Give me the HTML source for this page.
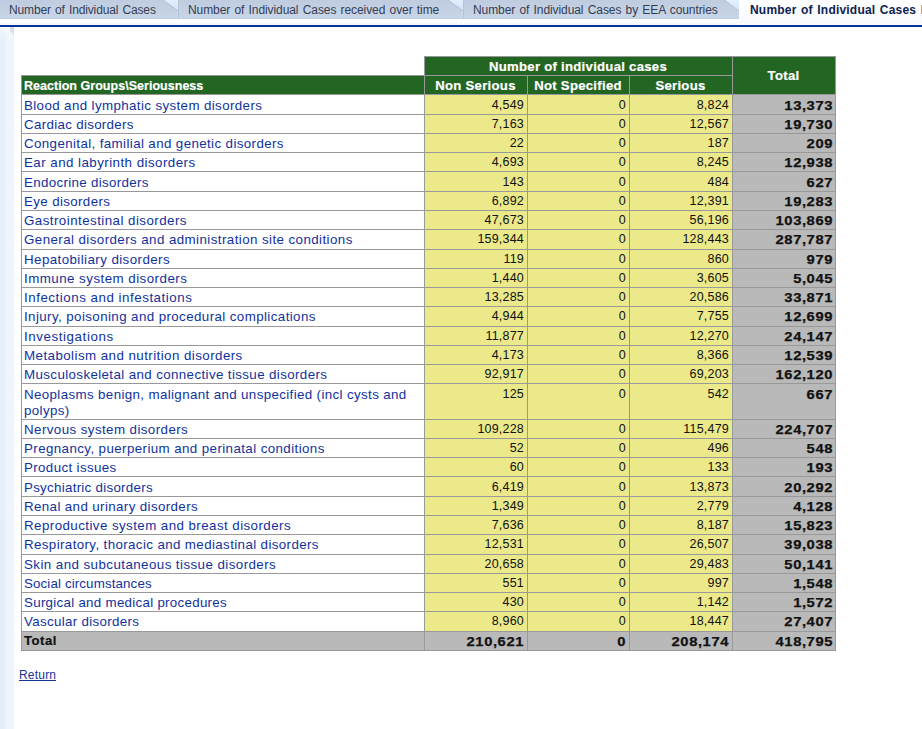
<!DOCTYPE html><html><head><meta charset="utf-8"><title>Number of Individual Cases</title><style>
html,body{margin:0;padding:0;}
body{width:922px;height:729px;overflow:hidden;background:#fff;position:relative;font-family:"Liberation Sans",sans-serif;}
div,span,a{position:absolute;white-space:nowrap;}
.tabbar{left:0;top:0;width:922px;height:19px;background:linear-gradient(#bfcce0,#c9d6e6);}
.strip{left:0;top:19px;width:922px;height:6px;background:linear-gradient(#ffffff,#f4f8fc);}
.bl{left:0;top:25px;width:922px;height:2px;background:#003399;}
.ls1{left:0;top:28px;width:5px;height:701px;background:linear-gradient(#f2f7fd,#e5effb 14px,#e3eefb);}
.ls2{left:5px;top:28px;width:9px;height:701px;background:linear-gradient(#f4f9fe,#edf4fd 14px);}
.tab{top:3px;font-size:12px;color:#343d54;line-height:14px;letter-spacing:-0.08px;word-spacing:1px;}
.tabA{top:3px;font-size:12px;color:#0e2150;font-weight:bold;line-height:14px;letter-spacing:0.2px;word-spacing:1px;}
.bg{}
.ln{background:#999999;}
.lab{font-size:12.6px;color:#10329e;line-height:16px;letter-spacing:0.36px;transform:scaleX(1.06);transform-origin:0 0;}
.num{font-size:12.5px;color:#111;line-height:14px;text-align:right;letter-spacing:0.2px;}
.tot{font-size:12.5px;color:#111;font-weight:bold;line-height:14px;text-align:right;letter-spacing:0.5px;transform:scaleX(1.18);transform-origin:100% 0;-webkit-text-stroke:0.25px currentColor;}
.hd{font-size:12.5px;color:#fff;font-weight:bold;line-height:14px;text-align:center;letter-spacing:0.27px;transform:scaleX(1.05);transform-origin:50% 0;-webkit-text-stroke:0.2px currentColor;}
</style></head><body>
<div class="tabbar"></div><div class="strip"></div>
<div style="left:739px;top:0;width:183px;height:25px;background:linear-gradient(#ffffff,#f6f9fd)"></div>
<svg style="position:absolute;left:162px;top:0" width="17" height="12"><defs><linearGradient id="tg0" x1="0" y1="0" x2="0" y2="1"><stop offset="0" stop-color="#e3effd"/><stop offset="1" stop-color="#d1e3fa"/></linearGradient></defs><polygon points="1.5,0 16,0 16,10.7" fill="url(#tg0)"/><line x1="0.8" y1="-0.4" x2="16" y2="11" stroke="#b3c2d8" stroke-width="1"/></svg>
<svg style="position:absolute;left:447px;top:0" width="17" height="12"><defs><linearGradient id="tg1" x1="0" y1="0" x2="0" y2="1"><stop offset="0" stop-color="#e3effd"/><stop offset="1" stop-color="#d1e3fa"/></linearGradient></defs><polygon points="1.5,0 16,0 16,10.7" fill="url(#tg1)"/><line x1="0.8" y1="-0.4" x2="16" y2="11" stroke="#b3c2d8" stroke-width="1"/></svg>
<svg style="position:absolute;left:723px;top:0" width="17" height="12"><defs><linearGradient id="tg2" x1="0" y1="0" x2="0" y2="1"><stop offset="0" stop-color="#e3effd"/><stop offset="1" stop-color="#d1e3fa"/></linearGradient></defs><polygon points="1.5,0 16,0 16,10.7" fill="url(#tg2)"/><line x1="0.8" y1="-0.4" x2="16" y2="11" stroke="#b3c2d8" stroke-width="1"/></svg>
<div style="left:178px;top:0;width:1px;height:19px;background:#b4c3d8"></div>
<div style="left:177px;top:11px;width:1px;height:8px;background:#cfdae9"></div>
<div style="left:463px;top:0;width:1px;height:19px;background:#b4c3d8"></div>
<div style="left:462px;top:11px;width:1px;height:8px;background:#cfdae9"></div>
<div style="left:0;top:18px;width:739px;height:1px;background:#c1cee0"></div>
<div class="bl"></div><div class="ls1"></div><div class="ls2"></div>
<svg style="position:absolute;left:10px;top:27px" width="5" height="10"><polygon points="0,0 4,0 4,9.5 2.6,6 0,4" fill="#d9dce6"/></svg>
<span class="tab" id="t1" style="left:9px;letter-spacing:-0.14px">Number of Individual Cases</span>
<span class="tab" id="t2" style="left:188px">Number of Individual Cases received over time</span>
<span class="tab" id="t3" style="left:473px">Number of Individual Cases by EEA countries</span>
<span class="tabA" id="t4" style="left:750px">Number of Individual Cases by Reaction Groups</span>
<div style="left:424px;top:56px;width:412px;height:39px;background:#236523"></div>
<div style="left:21px;top:75px;width:403px;height:20px;background:#236523"></div>
<div style="left:424px;top:94px;width:308px;height:537px;background:#ebe98a"></div>
<div style="left:732px;top:94px;width:103px;height:556px;background:#b9b9b9"></div>
<div style="left:21px;top:631px;width:711px;height:20px;background:#b9b9b9"></div>
<div class="ln" style="left:424px;top:56px;width:412px;height:1px"></div>
<div class="ln" style="left:21px;top:75px;width:712px;height:1px"></div>
<div class="ln" style="left:21px;top:94px;width:815px;height:1px"></div>
<div class="ln" style="left:21px;top:114px;width:815px;height:1px"></div>
<div class="ln" style="left:21px;top:133px;width:815px;height:1px"></div>
<div class="ln" style="left:21px;top:152px;width:815px;height:1px"></div>
<div class="ln" style="left:21px;top:171px;width:815px;height:1px"></div>
<div class="ln" style="left:21px;top:191px;width:815px;height:1px"></div>
<div class="ln" style="left:21px;top:210px;width:815px;height:1px"></div>
<div class="ln" style="left:21px;top:229px;width:815px;height:1px"></div>
<div class="ln" style="left:21px;top:249px;width:815px;height:1px"></div>
<div class="ln" style="left:21px;top:268px;width:815px;height:1px"></div>
<div class="ln" style="left:21px;top:287px;width:815px;height:1px"></div>
<div class="ln" style="left:21px;top:306px;width:815px;height:1px"></div>
<div class="ln" style="left:21px;top:326px;width:815px;height:1px"></div>
<div class="ln" style="left:21px;top:345px;width:815px;height:1px"></div>
<div class="ln" style="left:21px;top:364px;width:815px;height:1px"></div>
<div class="ln" style="left:21px;top:383px;width:815px;height:1px"></div>
<div class="ln" style="left:21px;top:419px;width:815px;height:1px"></div>
<div class="ln" style="left:21px;top:438px;width:815px;height:1px"></div>
<div class="ln" style="left:21px;top:457px;width:815px;height:1px"></div>
<div class="ln" style="left:21px;top:476px;width:815px;height:1px"></div>
<div class="ln" style="left:21px;top:496px;width:815px;height:1px"></div>
<div class="ln" style="left:21px;top:515px;width:815px;height:1px"></div>
<div class="ln" style="left:21px;top:534px;width:815px;height:1px"></div>
<div class="ln" style="left:21px;top:554px;width:815px;height:1px"></div>
<div class="ln" style="left:21px;top:573px;width:815px;height:1px"></div>
<div class="ln" style="left:21px;top:592px;width:815px;height:1px"></div>
<div class="ln" style="left:21px;top:611px;width:815px;height:1px"></div>
<div class="ln" style="left:21px;top:631px;width:815px;height:1px"></div>
<div class="ln" style="left:21px;top:650px;width:815px;height:1px"></div>
<div class="ln" style="left:21px;top:75px;width:1px;height:576px"></div>
<div class="ln" style="left:424px;top:56px;width:1px;height:595px"></div>
<div class="ln" style="left:732px;top:56px;width:1px;height:595px"></div>
<div class="ln" style="left:835px;top:56px;width:1px;height:595px"></div>
<div class="ln" style="left:527px;top:75px;width:1px;height:576px"></div>
<div class="ln" style="left:629px;top:75px;width:1px;height:576px"></div>
<span class="hd" id="h0" style="left:424px;width:308px;top:60px">Number of individual cases</span>
<span class="hd" id="h1" style="left:424px;width:103px;top:79px">Non Serious</span>
<span class="hd" id="h2" style="left:527px;width:102px;top:79px">Not Specified</span>
<span class="hd" id="h3" style="left:629px;width:103px;top:79px">Serious</span>
<span class="hd" id="h4" style="left:732px;width:103px;top:69px">Total</span>
<span class="hd" id="h5" style="left:24px;top:79px;text-align:left;font-size:12.5px;letter-spacing:0.03px;transform:none">Reaction Groups\Seriousness</span>
<span class="lab" id="l0" style="left:24px;top:98px;letter-spacing:0.352px">Blood and lymphatic system disorders</span>
<span class="num" id="n0_0" style="left:424px;width:100px;top:98px">4,549</span>
<span class="num" id="n0_1" style="left:527px;width:99px;top:98px">0</span>
<span class="num" id="n0_2" style="left:629px;width:100px;top:98px">8,824</span>
<span class="tot" id="s0" style="left:732px;width:101px;top:99px">13,373</span>
<span class="lab" id="l1" style="left:24px;top:117px;letter-spacing:0.288px">Cardiac disorders</span>
<span class="num" id="n1_0" style="left:424px;width:100px;top:117px">7,163</span>
<span class="num" id="n1_1" style="left:527px;width:99px;top:117px">0</span>
<span class="num" id="n1_2" style="left:629px;width:100px;top:117px">12,567</span>
<span class="tot" id="s1" style="left:732px;width:101px;top:118px">19,730</span>
<span class="lab" id="l2" style="left:24px;top:136px;letter-spacing:0.353px">Congenital, familial and genetic disorders</span>
<span class="num" id="n2_0" style="left:424px;width:100px;top:136px">22</span>
<span class="num" id="n2_1" style="left:527px;width:99px;top:136px">0</span>
<span class="num" id="n2_2" style="left:629px;width:100px;top:136px">187</span>
<span class="tot" id="s2" style="left:732px;width:101px;top:137px">209</span>
<span class="lab" id="l3" style="left:24px;top:155px;letter-spacing:0.419px">Ear and labyrinth disorders</span>
<span class="num" id="n3_0" style="left:424px;width:100px;top:155px">4,693</span>
<span class="num" id="n3_1" style="left:527px;width:99px;top:155px">0</span>
<span class="num" id="n3_2" style="left:629px;width:100px;top:155px">8,245</span>
<span class="tot" id="s3" style="left:732px;width:101px;top:156px">12,938</span>
<span class="lab" id="l4" style="left:24px;top:175px;letter-spacing:0.295px">Endocrine disorders</span>
<span class="num" id="n4_0" style="left:424px;width:100px;top:175px">143</span>
<span class="num" id="n4_1" style="left:527px;width:99px;top:175px">0</span>
<span class="num" id="n4_2" style="left:629px;width:100px;top:175px">484</span>
<span class="tot" id="s4" style="left:732px;width:101px;top:176px">627</span>
<span class="lab" id="l5" style="left:24px;top:194px;letter-spacing:0.338px">Eye disorders</span>
<span class="num" id="n5_0" style="left:424px;width:100px;top:194px">6,892</span>
<span class="num" id="n5_1" style="left:527px;width:99px;top:194px">0</span>
<span class="num" id="n5_2" style="left:629px;width:100px;top:194px">12,391</span>
<span class="tot" id="s5" style="left:732px;width:101px;top:195px">19,283</span>
<span class="lab" id="l6" style="left:24px;top:213px;letter-spacing:0.422px">Gastrointestinal disorders</span>
<span class="num" id="n6_0" style="left:424px;width:100px;top:213px">47,673</span>
<span class="num" id="n6_1" style="left:527px;width:99px;top:213px">0</span>
<span class="num" id="n6_2" style="left:629px;width:100px;top:213px">56,196</span>
<span class="tot" id="s6" style="left:732px;width:101px;top:214px">103,869</span>
<span class="lab" id="l7" style="left:24px;top:232px;letter-spacing:0.391px">General disorders and administration site conditions</span>
<span class="num" id="n7_0" style="left:424px;width:100px;top:232px">159,344</span>
<span class="num" id="n7_1" style="left:527px;width:99px;top:232px">0</span>
<span class="num" id="n7_2" style="left:629px;width:100px;top:232px">128,443</span>
<span class="tot" id="s7" style="left:732px;width:101px;top:233px">287,787</span>
<span class="lab" id="l8" style="left:24px;top:252px;letter-spacing:0.389px">Hepatobiliary disorders</span>
<span class="num" id="n8_0" style="left:424px;width:100px;top:252px">119</span>
<span class="num" id="n8_1" style="left:527px;width:99px;top:252px">0</span>
<span class="num" id="n8_2" style="left:629px;width:100px;top:252px">860</span>
<span class="tot" id="s8" style="left:732px;width:101px;top:253px">979</span>
<span class="lab" id="l9" style="left:24px;top:271px;letter-spacing:0.430px">Immune system disorders</span>
<span class="num" id="n9_0" style="left:424px;width:100px;top:271px">1,440</span>
<span class="num" id="n9_1" style="left:527px;width:99px;top:271px">0</span>
<span class="num" id="n9_2" style="left:629px;width:100px;top:271px">3,605</span>
<span class="tot" id="s9" style="left:732px;width:101px;top:272px">5,045</span>
<span class="lab" id="l10" style="left:24px;top:290px;letter-spacing:0.489px">Infections and infestations</span>
<span class="num" id="n10_0" style="left:424px;width:100px;top:290px">13,285</span>
<span class="num" id="n10_1" style="left:527px;width:99px;top:290px">0</span>
<span class="num" id="n10_2" style="left:629px;width:100px;top:290px">20,586</span>
<span class="tot" id="s10" style="left:732px;width:101px;top:291px">33,871</span>
<span class="lab" id="l11" style="left:24px;top:309px;letter-spacing:0.374px">Injury, poisoning and procedural complications</span>
<span class="num" id="n11_0" style="left:424px;width:100px;top:309px">4,944</span>
<span class="num" id="n11_1" style="left:527px;width:99px;top:309px">0</span>
<span class="num" id="n11_2" style="left:629px;width:100px;top:309px">7,755</span>
<span class="tot" id="s11" style="left:732px;width:101px;top:310px">12,699</span>
<span class="lab" id="l12" style="left:24px;top:329px;letter-spacing:0.542px">Investigations</span>
<span class="num" id="n12_0" style="left:424px;width:100px;top:329px">11,877</span>
<span class="num" id="n12_1" style="left:527px;width:99px;top:329px">0</span>
<span class="num" id="n12_2" style="left:629px;width:100px;top:329px">12,270</span>
<span class="tot" id="s12" style="left:732px;width:101px;top:330px">24,147</span>
<span class="lab" id="l13" style="left:24px;top:348px;letter-spacing:0.407px">Metabolism and nutrition disorders</span>
<span class="num" id="n13_0" style="left:424px;width:100px;top:348px">4,173</span>
<span class="num" id="n13_1" style="left:527px;width:99px;top:348px">0</span>
<span class="num" id="n13_2" style="left:629px;width:100px;top:348px">8,366</span>
<span class="tot" id="s13" style="left:732px;width:101px;top:349px">12,539</span>
<span class="lab" id="l14" style="left:24px;top:367px;letter-spacing:0.354px">Musculoskeletal and connective tissue disorders</span>
<span class="num" id="n14_0" style="left:424px;width:100px;top:367px">92,917</span>
<span class="num" id="n14_1" style="left:527px;width:99px;top:367px">0</span>
<span class="num" id="n14_2" style="left:629px;width:100px;top:367px">69,203</span>
<span class="tot" id="s14" style="left:732px;width:101px;top:368px">162,120</span>
<span class="lab" id="l15" style="left:24px;top:387px;letter-spacing:0.339px">Neoplasms benign, malignant and unspecified (incl cysts and<br>polyps)</span>
<span class="num" id="n15_0" style="left:424px;width:100px;top:387px">125</span>
<span class="num" id="n15_1" style="left:527px;width:99px;top:387px">0</span>
<span class="num" id="n15_2" style="left:629px;width:100px;top:387px">542</span>
<span class="tot" id="s15" style="left:732px;width:101px;top:388px">667</span>
<span class="lab" id="l16" style="left:24px;top:422px;letter-spacing:0.388px">Nervous system disorders</span>
<span class="num" id="n16_0" style="left:424px;width:100px;top:422px">109,228</span>
<span class="num" id="n16_1" style="left:527px;width:99px;top:422px">0</span>
<span class="num" id="n16_2" style="left:629px;width:100px;top:422px">115,479</span>
<span class="tot" id="s16" style="left:732px;width:101px;top:423px">224,707</span>
<span class="lab" id="l17" style="left:24px;top:441px;letter-spacing:0.374px">Pregnancy, puerperium and perinatal conditions</span>
<span class="num" id="n17_0" style="left:424px;width:100px;top:441px">52</span>
<span class="num" id="n17_1" style="left:527px;width:99px;top:441px">0</span>
<span class="num" id="n17_2" style="left:629px;width:100px;top:441px">496</span>
<span class="tot" id="s17" style="left:732px;width:101px;top:442px">548</span>
<span class="lab" id="l18" style="left:24px;top:460px;letter-spacing:0.340px">Product issues</span>
<span class="num" id="n18_0" style="left:424px;width:100px;top:460px">60</span>
<span class="num" id="n18_1" style="left:527px;width:99px;top:460px">0</span>
<span class="num" id="n18_2" style="left:629px;width:100px;top:460px">133</span>
<span class="tot" id="s18" style="left:732px;width:101px;top:461px">193</span>
<span class="lab" id="l19" style="left:24px;top:480px;letter-spacing:0.257px">Psychiatric disorders</span>
<span class="num" id="n19_0" style="left:424px;width:100px;top:480px">6,419</span>
<span class="num" id="n19_1" style="left:527px;width:99px;top:480px">0</span>
<span class="num" id="n19_2" style="left:629px;width:100px;top:480px">13,873</span>
<span class="tot" id="s19" style="left:732px;width:101px;top:481px">20,292</span>
<span class="lab" id="l20" style="left:24px;top:499px;letter-spacing:0.350px">Renal and urinary disorders</span>
<span class="num" id="n20_0" style="left:424px;width:100px;top:499px">1,349</span>
<span class="num" id="n20_1" style="left:527px;width:99px;top:499px">0</span>
<span class="num" id="n20_2" style="left:629px;width:100px;top:499px">2,779</span>
<span class="tot" id="s20" style="left:732px;width:101px;top:500px">4,128</span>
<span class="lab" id="l21" style="left:24px;top:518px;letter-spacing:0.400px">Reproductive system and breast disorders</span>
<span class="num" id="n21_0" style="left:424px;width:100px;top:518px">7,636</span>
<span class="num" id="n21_1" style="left:527px;width:99px;top:518px">0</span>
<span class="num" id="n21_2" style="left:629px;width:100px;top:518px">8,187</span>
<span class="tot" id="s21" style="left:732px;width:101px;top:519px">15,823</span>
<span class="lab" id="l22" style="left:24px;top:537px;letter-spacing:0.354px">Respiratory, thoracic and mediastinal disorders</span>
<span class="num" id="n22_0" style="left:424px;width:100px;top:537px">12,531</span>
<span class="num" id="n22_1" style="left:527px;width:99px;top:537px">0</span>
<span class="num" id="n22_2" style="left:629px;width:100px;top:537px">26,507</span>
<span class="tot" id="s22" style="left:732px;width:101px;top:538px">39,038</span>
<span class="lab" id="l23" style="left:24px;top:557px;letter-spacing:0.402px">Skin and subcutaneous tissue disorders</span>
<span class="num" id="n23_0" style="left:424px;width:100px;top:557px">20,658</span>
<span class="num" id="n23_1" style="left:527px;width:99px;top:557px">0</span>
<span class="num" id="n23_2" style="left:629px;width:100px;top:557px">29,483</span>
<span class="tot" id="s23" style="left:732px;width:101px;top:558px">50,141</span>
<span class="lab" id="l24" style="left:24px;top:576px;letter-spacing:0.110px">Social circumstances</span>
<span class="num" id="n24_0" style="left:424px;width:100px;top:576px">551</span>
<span class="num" id="n24_1" style="left:527px;width:99px;top:576px">0</span>
<span class="num" id="n24_2" style="left:629px;width:100px;top:576px">997</span>
<span class="tot" id="s24" style="left:732px;width:101px;top:577px">1,548</span>
<span class="lab" id="l25" style="left:24px;top:595px;letter-spacing:0.260px">Surgical and medical procedures</span>
<span class="num" id="n25_0" style="left:424px;width:100px;top:595px">430</span>
<span class="num" id="n25_1" style="left:527px;width:99px;top:595px">0</span>
<span class="num" id="n25_2" style="left:629px;width:100px;top:595px">1,142</span>
<span class="tot" id="s25" style="left:732px;width:101px;top:596px">1,572</span>
<span class="lab" id="l26" style="left:24px;top:614px;letter-spacing:0.292px">Vascular disorders</span>
<span class="num" id="n26_0" style="left:424px;width:100px;top:614px">8,960</span>
<span class="num" id="n26_1" style="left:527px;width:99px;top:614px">0</span>
<span class="num" id="n26_2" style="left:629px;width:100px;top:614px">18,447</span>
<span class="tot" id="s26" style="left:732px;width:101px;top:615px">27,407</span>
<span class="hd" id="tl" style="left:24px;top:634px;text-align:left;color:#111;transform-origin:0 0;letter-spacing:0.5px">Total</span>
<span class="tot" id="tn0" style="left:424px;width:100px;top:635px">210,621</span>
<span class="tot" id="tn1" style="left:527px;width:99px;top:635px">0</span>
<span class="tot" id="tn2" style="left:629px;width:100px;top:635px">208,174</span>
<span class="tot" id="tn3" style="left:732px;width:101px;top:635px">418,795</span>
<a id="ret" style="left:19px;top:668px;font-size:12px;line-height:14px;color:#16349a;text-decoration:none;letter-spacing:0.2px">Return</a>
<div style="left:19px;top:680px;width:37px;height:1px;background:#16349a"></div>
</body></html>
